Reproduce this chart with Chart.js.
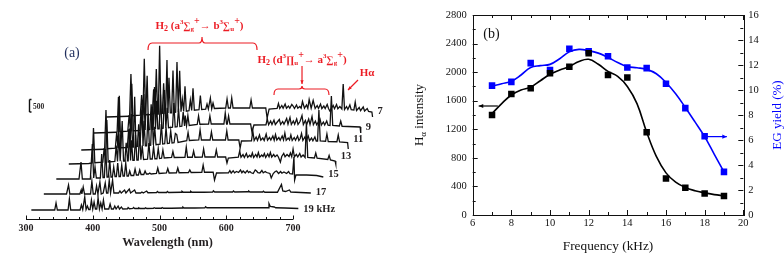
<!DOCTYPE html>
<html><head><meta charset="utf-8">
<script src="https://cdn.jsdelivr.net/npm/chart.js@4.4.1/dist/chart.umd.min.js"></script>
<style>html,body{margin:0;padding:0;background:#fff;}#wrap{position:relative;width:784px;height:256px;}canvas{position:absolute;left:0;top:0;}</style>
</head><body><div id="wrap"><canvas id="ca" width="784" height="256"></canvas><canvas id="cb" width="784" height="256"></canvas></div>
<script>
// ================= Panel (a): emission spectra (true wavelength nm, counts above each trace's start) =================
const s19 = [[300,0],[320,0],[335,0],[337,280],[339,0],[355,0],[357,440],[359,0],[373,0],[375,200],[377,20],[380,520],[382,20],[384,160],[386,20],[388,20],[390,400],[392,40],[394,320],[396,40],[398,40],[400,480],[402,40],[404,280],[406,40],[408,400],[410,40],[416,40],[418,240],[420,40],[423,40],[425,160],[427,40],[430,160],[432,40],[435,120],[437,40],[444,50],[445,100],[447,50],[452,60],[453,100],[455,60],[460,60],[461,90],[463,60],[470,60],[471,90],[473,60],[483,70],[484,90],[486,70],[495,70],[496,100],[498,70],[510,70],[526,80],[527,120],[529,80],[545,80],[560,90],[561,130],[563,90],[590,90],[620,90],[645,90],[655,90],[656,260],[658,140],[664,120],[666,90],[680,80],[700,60]];
const s17 = [[300,0],[334,0],[337,360],[339,0],[354,0],[356,160],[357,0],[359,280],[361,0],[370,0],[372,520],[374,0],[377,0],[379,320],[381,0],[384,480],[386,0],[389,40],[392,440],[394,40],[396,40],[398,560],[400,40],[403,560],[405,40],[412,40],[414,120],[416,40],[421,160],[423,40],[428,200],[430,40],[436,160],[438,40],[445,40],[447,80],[449,40],[454,120],[456,50],[469,60],[470,100],[472,60],[484,60],[485,100],[487,60],[506,70],[507,110],[509,70],[519,70],[520,110],[522,70],[540,70],[553,80],[554,130],[556,80],[583,80],[584,120],[586,80],[606,90],[607,120],[609,80],[628,80],[629,110],[631,70],[650,70],[656,380],[658,120],[662,100],[668,160],[670,80],[685,60],[700,40]];
const s15 = [[300,0],[334,0],[337,680],[339,0],[351,0],[354,1400],[356,40],[358,480],[360,40],[366,40],[368,1000],[370,60],[372,60],[374,1200],[376,80],[378,80],[380,760],[382,80],[384,80],[386,480],[388,100],[390,100],[392,640],[394,100],[396,100],[398,560],[400,120],[402,120],[404,640],[406,120],[408,120],[410,320],[412,140],[416,140],[418,400],[420,160],[423,160],[425,360],[427,180],[431,180],[433,320],[435,200],[438,200],[440,240],[442,200],[450,220],[452,440],[454,220],[465,240],[467,420],[469,240],[480,250],[482,440],[484,250],[498,260],[500,360],[502,260],[518,270],[520,560],[522,270],[535,270],[537,-40],[540,240],[558,250],[560,340],[562,240],[565,330],[567,250],[570,300],[573,260],[576,360],[578,250],[580,320],[583,240],[586,340],[588,260],[590,300],[592,250],[595,220],[598,360],[600,320],[602,250],[605,240],[608,340],[610,250],[613,300],[615,260],[620,220],[622,40],[625,220],[628,300],[630,320],[633,220],[636,300],[638,230],[641,280],[645,220],[648,300],[650,210],[654,200],[656,880],[657,-40],[659,160],[675,160],[690,140],[700,80]];
const s13 = [[300,0],[330,20],[335,40],[337,1440],[339,50],[351,70],[353,640],[355,80],[357,1760],[359,80],[369,100],[371,740],[373,100],[375,1230],[377,110],[378,110],[380,1720],[382,120],[384,120],[386,850],[388,130],[389,130],[391,1420],[392.5,140],[394,950],[396,150],[398,150],[400,1160],[402,160],[404,160],[406,1290],[408,170],[410,740],[412,180],[418,190],[420,840],[422,200],[425,200],[427,690],[429,210],[432,210],[434,620],[436,220],[439,230],[441,560],[443,240],[454,260],[456,500],[458,260],[474,270],[476,680],[478,270],[485,270],[487,520],[489,270],[500,280],[502,600],[504,280],[519,280],[521,560],[523,280],[535,280],[537,40],[539,240],[554,270],[556,520],[558,270],[561,380],[563,260],[566,420],[568,270],[571,350],[573,280],[575,440],[577,260],[580,380],[582,280],[584,460],[586,270],[589,360],[591,300],[593,420],[595,260],[598,400],[600,290],[602,460],[604,280],[607,380],[609,290],[612,360],[614,280],[617,80],[619,300],[622,420],[624,290],[627,380],[630,300],[632,440],[634,290],[636,600],[638,290],[641,380],[643,280],[646,420],[648,280],[651,360],[654,260],[656,1640],[658,260],[668,240],[670,440],[672,230],[688,180],[690,340],[692,160],[699,120],[700,0]];
const s11 = [[300,0],[334,30],[335,40],[337,1600],[339,50],[351,70],[353,680],[355,80],[357,2170],[359,90],[369,100],[371,830],[373,110],[375,1440],[377,120],[378,120],[380,2130],[382,130],[384,140],[386,1030],[388,150],[389,150],[391,1760],[392.5,160],[394,1170],[396,170],[398,170],[400,1460],[402,180],[404,190],[406,1600],[408,200],[410,930],[412,210],[418,230],[420,1040],[422,240],[425,250],[427,900],[429,260],[432,270],[434,760],[436,280],[439,290],[441,660],[443,620],[445,300],[458,370],[460,700],[462,380],[476,400],[478,800],[480,400],[493,400],[495,720],[497,400],[516,400],[518,760],[520,400],[536,400],[538,80],[540,360],[555,370],[557,760],[559,380],[562,520],[564,380],[567,600],[569,390],[572,480],[574,380],[577,640],[579,390],[582,500],[584,400],[587,560],[589,390],[591,620],[593,400],[596,500],[598,390],[601,560],[603,400],[605,680],[607,390],[610,480],[612,400],[614,600],[616,380],[619,500],[621,390],[624,560],[626,380],[628,460],[630,660],[632,380],[635,520],[637,380],[640,560],[642,370],[645,480],[647,370],[650,520],[652,360],[654,360],[656,1600],[658,360],[666,350],[668,640],[670,340],[683,330],[685,600],[687,320],[699,300],[700,40]];
const s9 = [[300,0],[334,30],[335,40],[337,1440],[339,50],[351,70],[353,720],[355,80],[357,1970],[359,90],[369,100],[371,910],[373,110],[375,1560],[377,120],[378,120],[380,2290],[382,130],[384,140],[386,1150],[388,150],[389,150],[391,1840],[392.5,160],[394,1290],[396,170],[398,170],[400,1540],[402,180],[404,190],[406,1720],[408,200],[410,1010],[412,210],[418,230],[420,1200],[422,240],[425,250],[427,980],[429,260],[432,270],[434,840],[436,280],[437,700],[439,290],[441,700],[443,300],[455,340],[457,680],[459,350],[472,360],[474,680],[476,360],[495,360],[497,800],[499,360],[500,360],[502,680],[504,360],[535,360],[537,40],[540,320],[558,330],[560,560],[562,330],[565,480],[567,340],[570,520],[572,340],[575,440],[578,540],[580,340],[583,460],[585,350],[589,580],[591,350],[594,620],[596,340],[599,480],[601,350],[604,560],[606,340],[609,460],[612,700],[614,340],[617,500],[619,340],[622,560],[624,340],[627,660],[629,330],[632,480],[634,330],[637,460],[639,560],[641,320],[644,440],[646,320],[649,480],[651,310],[654,300],[656,1480],[658,300],[668,280],[670,480],[672,270],[699,240],[700,0]];
const s7 = [[300,0],[334,30],[335,40],[337,1720],[339,50],[351,70],[353,880],[355,80],[357,2330],[359,90],[369,100],[371,1110],[373,110],[375,1920],[377,120],[378,120],[380,2850],[382,130],[384,140],[386,1350],[388,150],[389,150],[391,2280],[392.5,160],[394,1570],[396,170],[398,170],[400,1860],[402,180],[404,190],[406,2200],[408,200],[410,1850],[412,210],[414,710],[416,220],[418,1230],[420,230],[424,250],[426,680],[428,260],[430,1150],[432,270],[439,290],[441,860],[443,300],[449,310],[451,520],[453,320],[456,760],[458,330],[460,560],[462,340],[479,360],[481,720],[483,360],[486,360],[488,760],[490,360],[515,360],[517,680],[519,360],[539,360],[541,-40],[544,320],[556,340],[558,540],[560,340],[563,460],[565,350],[568,520],[570,350],[573,440],[575,350],[578,500],[580,440],[582,340],[585,480],[587,350],[590,420],[592,350],[594,620],[597,350],[600,480],[602,350],[604,700],[607,350],[610,660],[613,340],[616,460],[618,340],[621,520],[623,340],[626,440],[628,340],[631,500],[633,340],[635,240],[637,330],[640,460],[642,330],[645,500],[647,330],[650,420],[653,320],[655,1320],[657,300],[660,420],[662,300],[665,480],[667,290],[671,280],[673,600],[675,260],[679,380],[681,250],[685,400],[687,240],[691,340],[693,220],[698,200],[699,0]];
const spectra = [s19, s17, s15, s13, s11, s9, s7];
const seriesLabels = ['19 kHz', '17', '15', '13', '11', '9', '7'];
const xShift = [8, 26.7, 45.4, 64.1, 82.8, 101.5, 120.2];      // waterfall offsets (nm)
const yShift = [360, 1000, 1600, 2200, 2760, 3440, 4080];      // waterfall offsets (counts)
const labelLift = [40, 60, 200, 320, 440, 220, 240];
const wlMin = 300, wlMax = 700;
const scaleBarValue = 500;

// ================= Panel (b) =================
const freq = [7, 8, 9, 10, 11, 12, 13, 14, 15, 16, 17, 18, 19];
const intensity = [1400, 1695, 1775, 1985, 2075, 2265, 1960, 1925, 1160, 510, 380, 300, 265];
const egYield = [10.35, 10.65, 12.15, 11.6, 13.3, 13.1, 12.7, 11.8, 11.75, 10.5, 8.55, 6.3, 3.45];
const curveFreq = [7, 7.5, 8, 8.5, 9, 9.5, 10, 10.5, 11, 11.5, 12, 12.5, 13, 13.5, 14, 14.5, 15, 15.5, 16, 16.5, 17, 17.5, 18, 18.5, 19];
const intensityCurve = [1420, 1560, 1680, 1750, 1790, 1880, 1970, 2030, 2080, 2150, 2180, 2110, 2010, 1940, 1800, 1560, 1160, 820, 590, 460, 385, 340, 310, 285, 270];
const yieldCurve = [10.32, 10.5, 10.7, 11.2, 11.8, 11.95, 12.05, 12.5, 13.05, 13.25, 13.15, 12.95, 12.6, 12.2, 11.87, 11.78, 11.65, 11.3, 10.6, 9.7, 8.6, 7.45, 6.27, 4.85, 3.45];

const SERIF = "'Liberation Serif', 'Times New Roman', serif";
const RED = '#ec1c24';
const DARK = '#231f20';

function rich(ctx, segs, x, y, color, align) {
  ctx.fillStyle = color; ctx.textBaseline = 'alphabetic'; ctx.textAlign = 'left';
  const f = s => `${s[3] || 'bold'} ${s[1]}px ${SERIF}`;
  let w = 0;
  segs.forEach(s => { ctx.font = f(s); w += ctx.measureText(s[0]).width; });
  let cx = align === 'left' ? x : x - w / 2;
  segs.forEach(s => { ctx.font = f(s); ctx.fillText(s[0], cx, y + s[2]); cx += ctx.measureText(s[0]).width; });
}
function arrowTo(ctx, x0, y0, x1, y1, size) {
  ctx.beginPath(); ctx.moveTo(x0, y0); ctx.lineTo(x1, y1); ctx.stroke();
  const a = Math.atan2(y1 - y0, x1 - x0);
  ctx.beginPath(); ctx.moveTo(x1, y1);
  ctx.lineTo(x1 - size * Math.cos(a - 0.42), y1 - size * Math.sin(a - 0.42));
  ctx.lineTo(x1 - size * Math.cos(a + 0.42), y1 - size * Math.sin(a + 0.42));
  ctx.closePath(); ctx.fill();
}
function brace(ctx, x0, x1, xc, yb, drop, notch) {
  ctx.beginPath();
  ctx.moveTo(x0, yb + drop);
  ctx.quadraticCurveTo(x0, yb, x0 + 4, yb);
  ctx.lineTo(xc - 3, yb);
  ctx.quadraticCurveTo(xc, yb, xc, yb - notch);
  ctx.quadraticCurveTo(xc, yb, xc + 3, yb);
  ctx.lineTo(x1 - 4, yb);
  ctx.quadraticCurveTo(x1, yb, x1, yb + drop);
  ctx.stroke();
}

const leftDeco = {
  id: 'leftDeco',
  afterDraw(chart) {
    const { ctx, chartArea: a } = chart;
    const X = v => chart.scales.x.getPixelForValue(v);
    const Y = v => chart.scales.y.getPixelForValue(v);
    ctx.save();
    // axis line (300-700 only) and inward ticks
    ctx.strokeStyle = '#111'; ctx.lineWidth = 1.2;
    const ay = Math.round(a.bottom) + 0.5;
    ctx.beginPath(); ctx.moveTo(X(wlMin), ay); ctx.lineTo(X(wlMax), ay); ctx.stroke();
    ctx.lineWidth = 1;
    for (let v = wlMin; v <= wlMax; v += 20) {
      const p = Math.round(X(v)) + 0.5, len = v % 100 === 0 ? 4 : 2.5;
      ctx.beginPath(); ctx.moveTo(p, ay); ctx.lineTo(p, ay - len); ctx.stroke();
    }
    // axis title
    ctx.fillStyle = DARK; ctx.font = `bold 12.3px ${SERIF}`; ctx.textAlign = 'center'; ctx.textBaseline = 'middle';
    ctx.fillText('Wavelength (nm)', X(512), 243);
    // series labels
    ctx.font = `bold 10.5px ${SERIF}`; ctx.textAlign = 'left';
    spectra.forEach((s, i) => {
      ctx.fillText(seriesLabels[i], X(s[s.length - 1][0] + xShift[i]) + 5, Y(yShift[i] + labelLift[i]));
    });
    // scale bar
    const sbx = Math.round(X(304.5)) + 0.5, sb0 = Y(4280), sb1 = Y(4280 + scaleBarValue);
    ctx.lineWidth = 1.4; ctx.beginPath(); ctx.moveTo(sbx, sb0); ctx.lineTo(sbx, sb1); ctx.moveTo(sbx, sb0); ctx.lineTo(sbx + 2, sb0); ctx.moveTo(sbx, sb1); ctx.lineTo(sbx + 2, sb1); ctx.stroke();
    ctx.font = `bold 7.5px ${SERIF}`; ctx.fillText(String(scaleBarValue), X(310.5), Y(4480));
    // (a)
    ctx.fillStyle = '#1f2d5c'; ctx.font = `14px ${SERIF}`; ctx.textAlign = 'center';
    ctx.fillText('(a)', X(368.9), Y(6640));
    // red annotations
    ctx.strokeStyle = RED; ctx.fillStyle = RED; ctx.lineWidth = 1.2;
    rich(ctx, [['H', 11, 0], ['2', 8, 2], [' (a', 11, 0], ['3', 7, -5], ['\u2211', 10, 0], ['g', 7, 2], ['+', 10, -5], ['\u2192 b', 11, 0], ['3', 7, -5], ['\u2211', 10, 0], ['u', 7, 2], ['+', 10, -5], [')', 11, 0]], X(559.9), Y(7760) + 4, RED);
    brace(ctx, X(482.8), X(646.1), X(563.7), Y(7040), 7, 6);
    rich(ctx, [['H', 11, 0], ['2', 8, 2], [' (d', 11, 0], ['3', 7, -5], ['\u220F', 10, 0], ['u', 7, 2], ['+', 10, -5], ['\u2192 a', 11, 0], ['3', 7, -5], ['\u2211', 10, 0], ['g', 7, 2], ['+', 10, -5], [')', 11, 0]], X(713.5), Y(6400) + 4, RED);
    ctx.fillStyle = RED;
    arrowTo(ctx, X(713.5), Y(6120), X(713.5), Y(5400), 4);
    brace(ctx, X(671.5), X(753.9), X(713.5), Y(5200), 6, 3);
    rich(ctx, [['H\u03B1', 11, 0]], X(810.9), Y(5880) + 4, RED);
    ctx.fillStyle = RED;
    arrowTo(ctx, X(797.4), Y(5560), X(782.4), Y(5160), 4);
    ctx.restore();
  }
};

new Chart(document.getElementById('ca'), {
  type: 'scatter',
  data: {
    datasets: spectra.map((s, i) => ({
      label: seriesLabels[i],
      data: s.map(p => ({ x: p[0] + xShift[i], y: p[1] + yShift[i] })),
      showLine: true, borderColor: '#111', borderWidth: 1.3, pointRadius: 0, tension: 0, clip: false
    }))
  },
  options: {
    responsive: false, devicePixelRatio: 1, animation: false, events: [],
    layout: { padding: { left: 26, right: 410.9, top: 27, bottom: 0 } },
    plugins: { legend: { display: false }, tooltip: { enabled: false } },
    scales: {
      x: {
        type: 'linear', min: 300, max: 820,
        afterFit: s => { s.height = 37; },
        afterBuildTicks: s => { s.ticks = s.ticks.filter(t => t.value <= wlMax); },
        grid: { display: false, drawTicks: false },
        border: { display: false },
        ticks: { stepSize: 100, padding: 3, color: DARK, maxRotation: 0, autoSkip: false, font: { family: SERIF, size: 10, weight: 'bold' } }
      },
      y: { display: false, min: 0, max: 7680 }
    }
  },
  plugins: [leftDeco]
});

const rightDeco = {
  id: 'rightDeco',
  afterDraw(chart) {
    const { ctx, chartArea: a, scales: { x, y, y2 } } = chart;
    ctx.save();
    ctx.strokeStyle = '#111'; ctx.lineWidth = 1;
    ctx.strokeRect(Math.round(a.left) + 0.5, Math.round(a.top) + 0.5, Math.round(a.right - a.left), Math.round(a.bottom - a.top));
    const L = (x0, y0, x1, y1) => { ctx.beginPath(); ctx.moveTo(x0, y0); ctx.lineTo(x1, y1); ctx.stroke(); };
    for (let v = 6; v <= 20; v += 1) {
      const p = Math.round(x.getPixelForValue(v)) + 0.5, len = v % 2 === 0 ? 5 : 3;
      L(p, a.bottom, p, a.bottom - len); L(p, a.top, p, a.top + len);
    }
    for (let v = 0; v <= 2800; v += 200) {
      const p = Math.round(y.getPixelForValue(v)) + 0.5, len = v % 400 === 0 ? 5 : 3;
      L(a.left, p, a.left + len, p);
    }
    for (let v = 0; v <= 16; v += 1) {
      const p = Math.round(y2.getPixelForValue(v)) + 0.5, len = v % 2 === 0 ? 5 : 3;
      L(a.right, p, a.right - len, p);
    }
    // arrows
    ctx.lineWidth = 1.2;
    ctx.strokeStyle = '#000'; ctx.fillStyle = '#000';
    arrowTo(ctx, x.getPixelForValue(7.3), y.getPixelForValue(1526), x.getPixelForValue(6.31), y.getPixelForValue(1526), 5);
    ctx.strokeStyle = '#0000ff'; ctx.fillStyle = '#0000ff';
    arrowTo(ctx, x.getPixelForValue(18.03), y2.getPixelForValue(6.27), x.getPixelForValue(19.15), y2.getPixelForValue(6.27), 5);
    // (b)
    ctx.fillStyle = '#111'; ctx.font = `14px ${SERIF}`; ctx.textAlign = 'center'; ctx.textBaseline = 'middle';
    ctx.fillText('(b)', x.getPixelForValue(6.97), y.getPixelForValue(2534));
    // left axis title with subscript
    ctx.save(); ctx.translate(418, (a.top + a.bottom) / 2); ctx.rotate(-Math.PI / 2);
    rich(ctx, [['H', 13, 0, 'normal'], ['\u03B1', 9, 3, 'normal'], [' intensity', 13, 0, 'normal']], 0, 4.5, '#111');
    ctx.restore();
    // right axis title
    ctx.save(); ctx.translate(776, (a.top + a.bottom) / 2); ctx.rotate(-Math.PI / 2);
    rich(ctx, [['EG yield (%)', 13, 0, 'normal']], 0, 4.5, '#0000ff');
    ctx.restore();
    ctx.restore();
  }
};

const tickFont = { family: SERIF, size: 10.5 };
const plain = v => String(v);
new Chart(document.getElementById('cb'), {
  type: 'scatter',
  data: {
    datasets: [
      { label: 'Hα intensity fit', data: curveFreq.map((f, i) => ({ x: f, y: intensityCurve[i] })), yAxisID: 'y', showLine: true, borderColor: '#000', borderWidth: 1.6, pointRadius: 0, tension: 0.4 },
      { label: 'Hα intensity', data: freq.map((f, i) => ({ x: f, y: intensity[i] })), yAxisID: 'y', showLine: false, pointStyle: 'rect', pointRadius: 4.6, backgroundColor: '#000', borderColor: '#000', borderWidth: 0 },
      { label: 'EG yield fit', data: curveFreq.map((f, i) => ({ x: f, y: yieldCurve[i] })), yAxisID: 'y2', showLine: true, borderColor: '#0000ff', borderWidth: 1.6, pointRadius: 0, tension: 0.4 },
      { label: 'EG yield', data: freq.map((f, i) => ({ x: f, y: egYield[i] })), yAxisID: 'y2', showLine: false, pointStyle: 'rect', pointRadius: 4.6, backgroundColor: '#0000ff', borderColor: '#0000ff', borderWidth: 0 }
    ]
  },
  options: {
    responsive: false, devicePixelRatio: 1, animation: false, events: [],
    layout: { padding: { left: 400, right: 0, top: 15, bottom: 0 } },
    plugins: { legend: { display: false }, tooltip: { enabled: false } },
    scales: {
      x: {
        type: 'linear', min: 6, max: 20,
        afterFit: s => { s.height = 41; },
        grid: { display: false, drawTicks: false }, border: { display: false },
        ticks: { stepSize: 2, padding: 2, color: '#111', maxRotation: 0, font: tickFont, callback: plain },
        title: { display: true, text: 'Frequency (kHz)', color: '#111', font: { family: SERIF, size: 13.3 }, padding: { top: 0, bottom: 2 } }
      },
      y: {
        position: 'left', min: 0, max: 2800,
        afterFit: s => { s.width = 72.7; },
        grid: { display: false, drawTicks: false }, border: { display: false },
        ticks: { stepSize: 400, padding: 6, color: '#111', font: tickFont, callback: plain }
      },
      y2: {
        position: 'right', min: 0, max: 16,
        afterFit: s => { s.width = 40.7; },
        grid: { display: false, drawTicks: false }, border: { display: false },
        ticks: { stepSize: 2, padding: 5, color: '#111', font: tickFont, callback: plain }
      }
    }
  },
  plugins: [rightDeco]
});
</script></body></html>
